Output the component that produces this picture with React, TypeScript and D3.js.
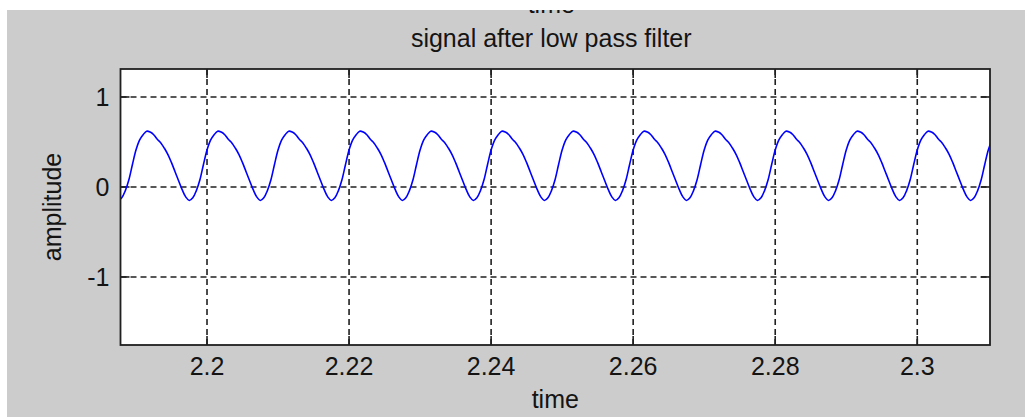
import React from "react";
import * as d3 from "d3";

// ---- data ----
const titleText = "signal after low pass filter";
const xLabelText = "time";
const yLabelText = "amplitude";
const prevAxisLabel = "time"; // x label of the subplot above, mostly cut off

const xTicks = [2.2, 2.22, 2.24, 2.26, 2.28, 2.3];
const xTickLabels = ["2.2", "2.22", "2.24", "2.26", "2.28", "2.3"];
const yTicks = [-1, 0, 1];
const yTickLabels = ["-1", "0", "1"];

const xDomain = [2.18782, 2.31024];
const yDomain = [-1.756, 1.311];

// filtered signal, sampled every 0.5 ms starting at t = 2.1875 s
const sampleStart = 2.1875;
const sampleStep = 0.0005;
const amplitude = [
  -0.15, -0.12, -0.04, 0.08, 0.25, 0.41, 0.52, 0.58, 0.62, 0.61, 0.58, 0.53, 0.49, 0.43, 0.36, 0.27, 0.17, 0.07, -0.03, -0.11,
  -0.15, -0.12, -0.04, 0.08, 0.25, 0.41, 0.52, 0.58, 0.62, 0.61, 0.58, 0.53, 0.49, 0.43, 0.36, 0.27, 0.17, 0.07, -0.03, -0.11,
  -0.15, -0.12, -0.04, 0.08, 0.25, 0.41, 0.52, 0.58, 0.62, 0.61, 0.58, 0.53, 0.49, 0.43, 0.36, 0.27, 0.17, 0.07, -0.03, -0.11,
  -0.15, -0.12, -0.04, 0.08, 0.25, 0.41, 0.52, 0.58, 0.62, 0.61, 0.58, 0.53, 0.49, 0.43, 0.36, 0.27, 0.17, 0.07, -0.03, -0.11,
  -0.15, -0.12, -0.04, 0.08, 0.25, 0.41, 0.52, 0.58, 0.62, 0.61, 0.58, 0.53, 0.49, 0.43, 0.36, 0.27, 0.17, 0.07, -0.03, -0.11,
  -0.15, -0.12, -0.04, 0.08, 0.25, 0.41, 0.52, 0.58, 0.62, 0.61, 0.58, 0.53, 0.49, 0.43, 0.36, 0.27, 0.17, 0.07, -0.03, -0.11,
  -0.15, -0.12, -0.04, 0.08, 0.25, 0.41, 0.52, 0.58, 0.62, 0.61, 0.58, 0.53, 0.49, 0.43, 0.36, 0.27, 0.17, 0.07, -0.03, -0.11,
  -0.15, -0.12, -0.04, 0.08, 0.25, 0.41, 0.52, 0.58, 0.62, 0.61, 0.58, 0.53, 0.49, 0.43, 0.36, 0.27, 0.17, 0.07, -0.03, -0.11,
  -0.15, -0.12, -0.04, 0.08, 0.25, 0.41, 0.52, 0.58, 0.62, 0.61, 0.58, 0.53, 0.49, 0.43, 0.36, 0.27, 0.17, 0.07, -0.03, -0.11,
  -0.15, -0.12, -0.04, 0.08, 0.25, 0.41, 0.52, 0.58, 0.62, 0.61, 0.58, 0.53, 0.49, 0.43, 0.36, 0.27, 0.17, 0.07, -0.03, -0.11,
  -0.15, -0.12, -0.04, 0.08, 0.25, 0.41, 0.52, 0.58, 0.62, 0.61, 0.58, 0.53, 0.49, 0.43, 0.36, 0.27, 0.17, 0.07, -0.03, -0.11,
  -0.15, -0.12, -0.04, 0.08, 0.25, 0.41, 0.52, 0.58, 0.62, 0.61, 0.58, 0.53, 0.49, 0.43, 0.36, 0.27, 0.17, 0.07, -0.03, -0.11,
  -0.15, -0.12, -0.04, 0.08, 0.25, 0.41, 0.52,
];

// ---- layout ----
const W = 1025;
const H = 417;
const plot = { left: 120.5, right: 990, top: 69, bottom: 345 };
const FONT = "'Liberation Sans', Arial, Helvetica, sans-serif";
const FS = 25;
const TEXT = "#141414";
const AXIS = "#202020";
const TICK = 9;

export default function App() {
  const x = d3.scaleLinear().domain(xDomain).range([plot.left, plot.right]);
  const y = d3.scaleLinear().domain(yDomain).range([plot.bottom, plot.top]);

  const points: [number, number][] = amplitude.map((a, i) => [sampleStart + i * sampleStep, a]);
  const line = d3
    .line<[number, number]>()
    .x((d) => x(d[0]))
    .y((d) => y(d[1]))
    .curve(d3.curveCatmullRom.alpha(0.5));

  const cx = (plot.left + plot.right) / 2;
  const cy = (plot.top + plot.bottom) / 2;

  return (
    <svg
      width={W}
      height={H}
      style={{ position: "absolute", left: 0, top: 0, display: "block" }}
      fontFamily={FONT}
    >
      <defs>
        <clipPath id="plotClip">
          <rect x={plot.left} y={plot.top} width={plot.right - plot.left} height={plot.bottom - plot.top} />
        </clipPath>
        <clipPath id="figClip">
          <rect x={7} y={10} width={W - 7} height={H - 10} />
        </clipPath>
      </defs>
      <rect x={0} y={0} width={W} height={H} fill="#ffffff" />
      <rect x={7} y={10} width={W - 7} height={H - 10} fill="#cccccc" />

      {/* cut-off label of the subplot above */}
      <g clipPath="url(#figClip)">
        <text x={cx - 4} y={12.5} textAnchor="middle" fontSize={FS} fill={TEXT}>
          {prevAxisLabel}
        </text>
      </g>

      <rect
        x={plot.left}
        y={plot.top}
        width={plot.right - plot.left}
        height={plot.bottom - plot.top}
        fill="#ffffff"
      />

      {/* grid */}
      <g stroke={AXIS} strokeWidth={1.6} strokeDasharray="6,4" fill="none">
        {xTicks.map((t) => (
          <line key={"gx" + t} x1={x(t)} x2={x(t)} y1={plot.top} y2={plot.bottom} />
        ))}
        {yTicks.map((t) => (
          <line key={"gy" + t} x1={plot.left} x2={plot.right} y1={y(t)} y2={y(t)} />
        ))}
      </g>

      {/* ticks */}
      <g stroke={AXIS} strokeWidth={1.6}>
        {xTicks.map((t) => (
          <g key={"tx" + t}>
            <line x1={x(t)} x2={x(t)} y1={plot.bottom} y2={plot.bottom - TICK} />
            <line x1={x(t)} x2={x(t)} y1={plot.top} y2={plot.top + TICK} />
          </g>
        ))}
        {yTicks.map((t) => (
          <g key={"ty" + t}>
            <line x1={plot.left} x2={plot.left + TICK} y1={y(t)} y2={y(t)} />
            <line x1={plot.right} x2={plot.right - TICK} y1={y(t)} y2={y(t)} />
          </g>
        ))}
      </g>

      {/* signal */}
      <g clipPath="url(#plotClip)">
        <path d={line(points) || ""} fill="none" stroke="#0000ff" strokeWidth={1.6} />
      </g>

      {/* box */}
      <rect
        x={plot.left}
        y={plot.top}
        width={plot.right - plot.left}
        height={plot.bottom - plot.top}
        fill="none"
        stroke={AXIS}
        strokeWidth={1.8}
      />

      {/* tick labels */}
      <g fontSize={FS} fill={TEXT}>
        {xTicks.map((t, i) => (
          <text key={"lx" + t} x={x(t)} y={375} textAnchor="middle">
            {xTickLabels[i]}
          </text>
        ))}
        {yTicks.map((t, i) => (
          <text key={"ly" + t} x={plot.left - 11} y={y(t) + 9} textAnchor="end">
            {yTickLabels[i]}
          </text>
        ))}
      </g>

      {/* labels */}
      <text x={cx - 4} y={47} textAnchor="middle" fontSize={FS} fill={TEXT}>
        {titleText}
      </text>
      <text x={cx} y={408} textAnchor="middle" fontSize={FS} fill={TEXT}>
        {xLabelText}
      </text>
      <text
        transform={`translate(61, ${cy}) rotate(-90)`}
        textAnchor="middle"
        fontSize={FS}
        fill={TEXT}
      >
        {yLabelText}
      </text>
    </svg>
  );
}
